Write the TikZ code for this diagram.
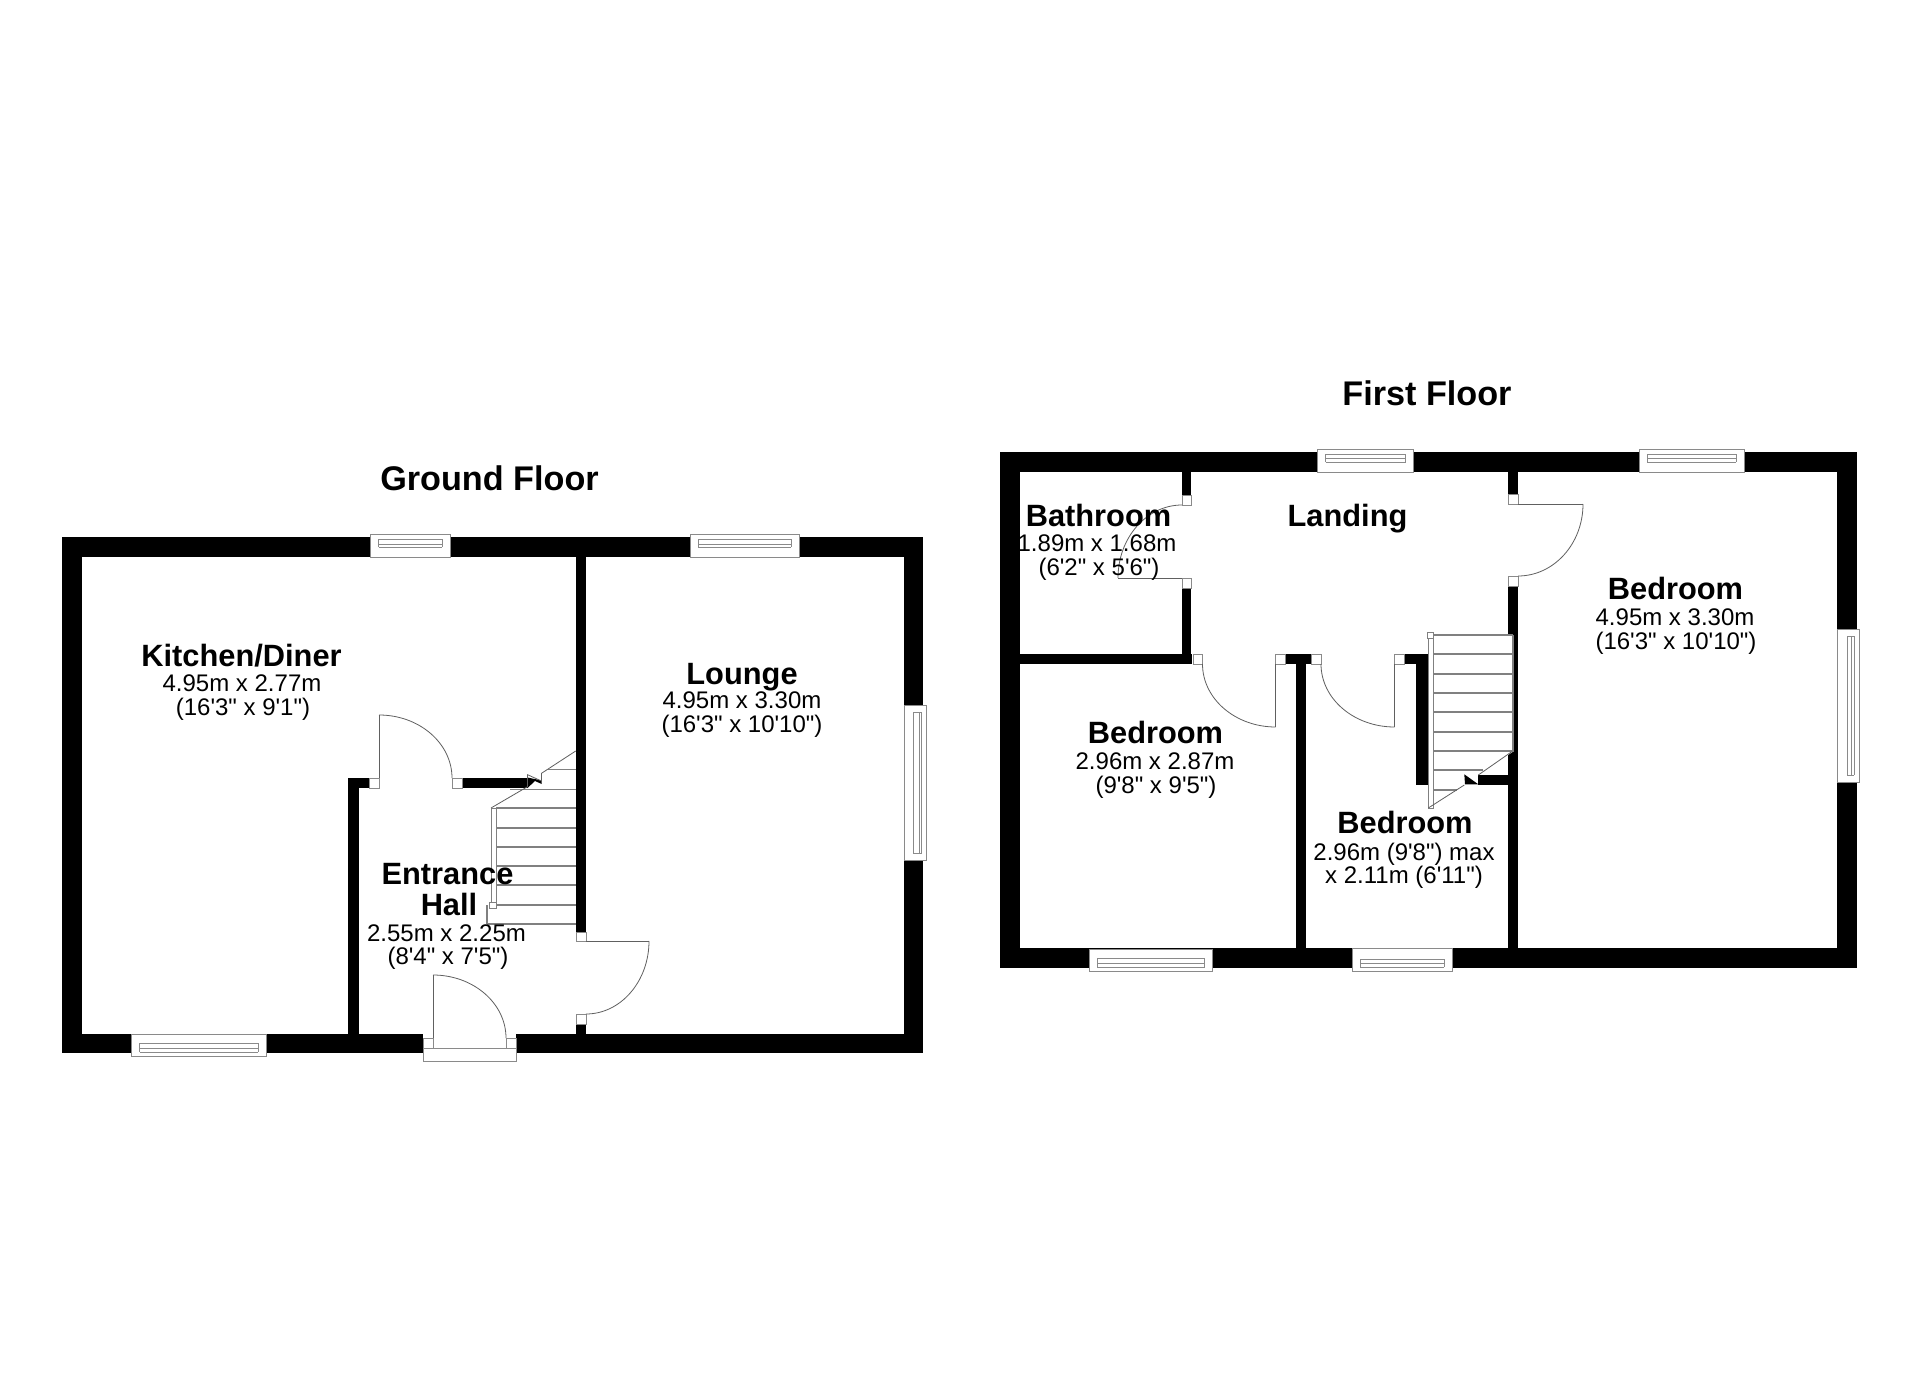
\documentclass[tikz,border=0pt]{standalone}
\usepackage{fontspec}
\usetikzlibrary{calc}
\newfontfamily\labfont{Liberation Sans}
\definecolor{lineink}{HTML}{606060}
\definecolor{stairink}{HTML}{808080}
\definecolor{winink}{HTML}{8A8A8A}
\tikzset{
  wallfill/.style={fill=black,draw=none},
  jambbox/.style={fill=white,draw=winink,line width=0.7pt},
  doorline/.style={draw=lineink,line width=0.8pt},
  stairline/.style={draw=stairink,line width=1.1pt},
  railbox/.style={fill=white,draw=stairink,line width=0.9pt},
  winbox/.style={fill=white,draw=winink,line width=1pt},
  winline/.style={draw=winink,line width=0.9pt},
  titletext/.style={anchor=base,inner sep=0pt,font=\labfont\bfseries\fontsize{34.2}{34.2}\selectfont},
  roomname/.style={anchor=base,inner sep=0pt,font=\labfont\bfseries\fontsize{30.8}{30.8}\selectfont},
  roomdim/.style={anchor=base,inner sep=0pt,font=\labfont\fontsize{24}{24}\selectfont},
}
\newcommand{\wallrect}[4]{\fill[wallfill] (#1,#2) rectangle (#3,#4);}
\newcommand{\jambsq}[4]{\draw[jambbox] (#1,#2) rectangle (#3,#4);}
% quarter arc: start, end, corner
\newcommand{\swing}[3]{\draw[doorline] (#1) .. controls ($(#1)!0.552!(#3)$) and ($(#2)!0.552!(#3)$) .. (#2);}
% horizontal window: x0 x1 ytop ybot ga gb gc inset
\newcommand{\winH}[8]{%
  \draw[winbox] (#1,#3) rectangle (#2,#4);
  \draw[winline] (#1+#8,#5) -- (#2-#8,#5) (#1+#8,#6) -- (#2-#8,#6) (#1+#8,#7) -- (#2-#8,#7)
     (#1+#8,#5) -- (#1+#8,#7) (#2-#8,#5) -- (#2-#8,#7);
}
% vertical window: y0 y1 xleft xright ga gb gc inset
\newcommand{\winV}[8]{%
  \draw[winbox] (#3,#1) rectangle (#4,#2);
  \draw[winline] (#5,#1+#8) -- (#5,#2-#8) (#6,#1+#8) -- (#6,#2-#8) (#7,#1+#8) -- (#7,#2-#8)
     (#5,#1+#8) -- (#7,#1+#8) (#5,#2-#8) -- (#7,#2-#8);
}
\begin{document}
\begin{tikzpicture}[x=1pt,y=-1pt]
\useasboundingbox[fill=white] (0,0) rectangle (1920,1396);

%%% GROUND FLOOR
\wallrect{62}{537}{923}{557}
\wallrect{62}{1034}{923}{1053}
\wallrect{62}{537}{82}{1053}
\wallrect{904}{537}{923}{1053}
\wallrect{576}{557}{586}{932}
\wallrect{576}{1024}{586}{1034}
\wallrect{348}{778}{359}{1034}
\wallrect{348}{778}{369}{788}
\wallrect{462}{778}{527.5}{788}
% ground stairs
\foreach \ty in {808,828,847,866,885,905}{\draw[stairline] (496,\ty) -- (576,\ty);}
\draw[stairline] (487,924) -- (576,924);
\draw[stairline] (487,905) -- (487,924);
\draw[stairline] (510,789.3) -- (576,789.3);
\draw[stairline] (548,769.3) -- (576,769.3);
\draw[railbox] (491,808) rectangle (496,905);
\draw[railbox] (489.5,902) rectangle (496,908);
\fill[white] (527.5,774.7) -- (541.5,781) -- (541.5,773.3) -- (548,769) -- (530,769) -- cycle;
\fill[black] (527.5,777.5) -- (541.7,780.5) -- (541.7,784) -- (535,781) -- (527.5,788) -- cycle;
\draw[doorline] (491,808) -- (527.5,786.7) (527.5,786.7) -- (527.5,774.7) -- (541.5,781) -- (541.5,773.3) -- (575.7,751);
% ground doors
\jambsq{369}{778}{379}{788}
\jambsq{452}{778}{462}{788}
\draw[doorline] (379,778) -- (379,715);
\swing{379,715}{452,778}{452,715}
\jambsq{576}{932}{586}{941}
\jambsq{576}{1014}{586}{1024}
\draw[doorline] (586,941) -- (649,941);
\swing{649,941}{586,1014}{649,1014}
\fill[white] (423,1033) rectangle (516,1053);
\draw[jambbox] (423,1048) rectangle (516,1061);
\jambsq{423}{1038}{433}{1048}
\jambsq{506}{1038}{516}{1048}
\draw[doorline] (433,1038) -- (433,975);
\swing{433,975}{506,1038}{506,975}
% ground windows
\winH{370.7}{450}{534}{557}{539}{544}{547}{8}
\winH{690}{799}{534}{557}{539}{544}{547}{8}
\winH{131.7}{266}{1034}{1056}{1043}{1048}{1052}{8}
\winV{705}{860.7}{904}{926}{913}{919}{921}{7}

%%% FIRST FLOOR
\wallrect{1000}{452.3}{1857}{472}
\wallrect{1000}{948}{1857}{968}
\wallrect{1000}{452.3}{1019.5}{968}
\wallrect{1837}{452.3}{1857}{968}
\wallrect{1182}{472}{1191}{495}
\wallrect{1182}{588}{1191}{664}
\wallrect{1019}{654}{1192}{664}
\wallrect{1285}{654}{1311}{664}
\wallrect{1296}{664}{1306}{948}
\wallrect{1404}{654}{1427.7}{664}
\wallrect{1416}{664}{1427.7}{785}
\wallrect{1508}{472}{1518}{494}
\wallrect{1508}{586}{1518}{948}
\wallrect{1478}{775}{1508}{785}
% first stairs
\fill[white] (1433,635) -- (1513,635) -- (1513,751.7) -- (1478.3,775) -- (1433,775) -- cycle;
\fill[black] (1464.3,774.3) -- (1478.3,784.3) -- (1465,784.3) -- cycle;
\foreach \ty in {635,654,674,693,712,732,751}{\draw[stairline] (1433,\ty) -- (1513,\ty);}
\draw[stairline] (1433,770) -- (1483,770);
\draw[stairline] (1433,790) -- (1457,790);
\draw[stairline] (1513,635) -- (1513,751.7);
\draw[railbox] (1428.3,635) rectangle (1433.3,808);
\draw[railbox] (1427.5,632) rectangle (1433.5,638);
\draw[doorline] (1428.3,808) -- (1464.3,785) (1478.3,775) -- (1511.7,751.7);
% first doors
\jambsq{1182}{495}{1191}{505}
\jambsq{1182}{578}{1191}{588}
\draw[doorline] (1182,578) -- (1118,578);
\swing{1182,505}{1118,578}{1118,505}
\jambsq{1193}{654}{1202.5}{664}
\jambsq{1275.7}{654}{1285}{664}
\draw[doorline] (1275.7,664) -- (1275.7,727);
\swing{1202.5,664}{1275.7,727}{1202.5,727}
\jambsq{1311}{654}{1321}{664}
\jambsq{1394.6}{654}{1404}{664}
\draw[doorline] (1394.6,664) -- (1394.6,727);
\swing{1321,664}{1394.6,727}{1321,727}
\jambsq{1508}{494}{1518}{504}
\jambsq{1508}{576}{1518}{586}
\draw[doorline] (1518,504) -- (1583,504);
\swing{1583,504}{1518,576}{1583,576}
% first windows
\winH{1317.5}{1413.6}{449}{472}{454}{458}{462}{8}
\winH{1639}{1744}{449}{472}{454}{458}{462}{8}
\winH{1089.3}{1212.7}{949}{971}{958.5}{963}{967}{8}
\winH{1352}{1452}{948}{971}{959}{963}{967}{8}
\winV{629}{782}{1837}{1859}{1847}{1851}{1854}{7}

%%% TEXT
\node[titletext] (tground) at (489.5,490) {Ground Floor};
\node[titletext] (tfirst) at (1427,406) {First Floor};

\node[roomname] (kitn) at (241.5,666) {Kitchen/Diner};
\node[roomdim] (kita) at (242,691) {4.95m x 2.77m};
\node[roomdim] (kitb) at (243,715) {(16'3" x 9'1")};

\node[roomname] (loun) at (742,684) {Lounge};
\node[roomdim] (loua) at (742,708.6) {4.95m x 3.30m};
\node[roomdim] (loub) at (742,732) {(16'3" x 10'10")};

\node[roomname] (entn) at (447.5,884) {Entrance};
\node[roomname] (entm) at (449,915) {Hall};
\node[roomdim] (enta) at (446.5,941) {2.55m x 2.25m};
\node[roomdim] (entb) at (448,964) {(8'4" x 7'5")};

\node[roomname] (bathn) at (1098.5,526) {Bathroom};
\node[roomdim] (batha) at (1097,551) {1.89m x 1.68m};
\node[roomdim] (bathb) at (1099,575) {(6'2" x 5'6")};

\node[roomname] (land) at (1347.5,526) {Landing};

\node[roomname] (bedln) at (1155.5,743) {Bedroom};
\node[roomdim] (bedla) at (1155,769) {2.96m x 2.87m};
\node[roomdim] (bedlb) at (1156,793) {(9'8" x 9'5")};

\node[roomname] (bedsn) at (1405,833) {Bedroom};
\node[roomdim] (bedsa) at (1404,860) {2.96m (9'8") max};
\node[roomdim] (bedsb) at (1404,883) {x 2.11m (6'11")};

\node[roomname] (bedrn) at (1675.5,599) {Bedroom};
\node[roomdim] (bedra) at (1675,625) {4.95m x 3.30m};
\node[roomdim] (bedrb) at (1676,649) {(16'3" x 10'10")};
\end{tikzpicture}
\end{document}
